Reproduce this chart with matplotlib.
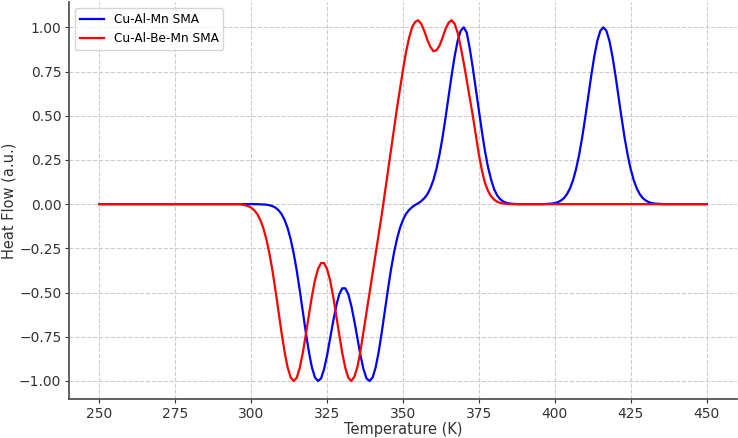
import matplotlib
matplotlib.use("Agg")
import matplotlib.pyplot as plt

# Temperature grid (K) shared by both DSC traces
temperature = [
    250, 260, 270, 280, 290,
    296, 297, 298, 299,
    300, 301, 302, 303, 304, 305, 306, 307, 308, 309,
    310, 311, 312, 313, 314, 315, 316, 317, 318, 319,
    320, 321, 322, 323, 324, 325, 326, 327, 328, 329,
    330, 331, 332, 333, 334, 335, 336, 337, 338, 339,
    340, 341, 342, 343, 344, 345, 346, 347, 348, 349,
    350, 351, 352, 353, 354, 355, 356, 357, 358, 359,
    360, 361, 362, 363, 364, 365, 366, 367, 368, 369,
    370, 371, 372, 373, 374, 375, 376, 377, 378, 379,
    380, 381, 382, 383, 384, 385, 386, 387, 388, 389,
    390, 391, 392, 393, 394, 395, 396, 397, 398, 399,
    400, 401, 402, 403, 404, 405, 406, 407, 408, 409,
    410, 411, 412, 413, 414, 415, 416, 417, 418, 419,
    420, 421, 422, 423, 424, 425, 426, 427, 428, 429,
    430, 431, 432, 433, 434, 435, 436,
    440, 450,
]

cu_al_mn = [
    0, 0, 0, 0, 0,
    0, 0, 0, 0,
    0, 0, 0, -0.001, -0.002, -0.003, -0.006, -0.011, -0.020, -0.034,
    -0.056, -0.089, -0.135, -0.198, -0.278, -0.375, -0.487, -0.607, -0.726, -0.835,
    -0.923, -0.980, -1.000, -0.986, -0.934, -0.855, -0.760, -0.663, -0.576, -0.510,
    -0.476, -0.476, -0.510, -0.576, -0.663, -0.760, -0.855, -0.934, -0.986, -1.000,
    -0.980, -0.923, -0.835, -0.726, -0.607, -0.487, -0.375, -0.278, -0.198, -0.135,
    -0.089, -0.055, -0.033, -0.017, -0.005, 0.005, 0.017, 0.033, 0.055, 0.089,
    0.135, 0.198, 0.278, 0.375, 0.487, 0.607, 0.726, 0.835, 0.923, 0.980,
    1.000, 0.970, 0.880, 0.770, 0.650, 0.530, 0.410, 0.300, 0.210, 0.140,
    0.085, 0.050, 0.028, 0.015, 0.008, 0.004, 0.002, 0.001, 0, 0,
    0, 0, 0, 0, 0, 0, 0, 0.001, 0.002, 0.003,
    0.006, 0.011, 0.020, 0.034, 0.056, 0.089, 0.135, 0.198, 0.278, 0.375,
    0.487, 0.607, 0.726, 0.835, 0.923, 0.980, 1.000, 0.980, 0.923, 0.835,
    0.726, 0.607, 0.487, 0.375, 0.278, 0.198, 0.135, 0.089, 0.056, 0.034,
    0.020, 0.011, 0.006, 0.003, 0.002, 0.001, 0,
    0, 0,
]

cu_al_be_mn = [
    0, 0, 0, 0, 0,
    0, -0.003, -0.006, -0.011,
    -0.020, -0.034, -0.056, -0.089, -0.135, -0.198, -0.278, -0.375, -0.487, -0.607,
    -0.726, -0.835, -0.923, -0.980, -1.000, -0.982, -0.926, -0.841, -0.737, -0.627,
    -0.521, -0.431, -0.367, -0.333, -0.333, -0.367, -0.431, -0.521, -0.627, -0.737,
    -0.841, -0.926, -0.982, -1.000, -0.975, -0.920, -0.830, -0.720, -0.610, -0.500,
    -0.390, -0.280, -0.170, -0.060, 0.060, 0.180, 0.300, 0.420, 0.540, 0.650,
    0.760, 0.860, 0.940, 1.000, 1.030, 1.040, 1.020, 0.980, 0.930, 0.890,
    0.865, 0.870, 0.895, 0.940, 0.990, 1.025, 1.040, 1.020, 0.970, 0.890,
    0.800, 0.700, 0.600, 0.500, 0.390, 0.280, 0.190, 0.120, 0.075, 0.045,
    0.026, 0.014, 0.007, 0.004, 0.002, 0.001, 0, 0, 0, 0,
    0, 0, 0, 0, 0, 0, 0, 0, 0, 0,
    0, 0, 0, 0, 0, 0, 0, 0, 0, 0,
    0, 0, 0, 0, 0, 0, 0, 0, 0, 0,
    0, 0, 0, 0, 0, 0, 0, 0, 0, 0,
    0, 0, 0, 0, 0, 0, 0,
    0, 0,
]

series_labels = ["Cu-Al-Mn SMA", "Cu-Al-Be-Mn SMA"]

fig, ax = plt.subplots(figsize=(7.38, 4.38), dpi=100)
fig.subplots_adjust(left=0.0935, right=0.9986, bottom=0.089, top=0.995)

ax.plot(temperature, cu_al_mn, color="blue", lw=1.6, label=series_labels[0])
ax.plot(temperature, cu_al_be_mn, color="red", lw=1.6, label=series_labels[1])

ax.set_xlabel("Temperature (K)", fontsize=10.5, color="#333333", labelpad=1)
ax.set_ylabel("Heat Flow (a.u.)", fontsize=10.5, color="#333333", labelpad=2)
ax.set_xticks([250, 275, 300, 325, 350, 375, 400, 425, 450])
ax.set_yticks([-1.0, -0.75, -0.5, -0.25, 0, 0.25, 0.5, 0.75, 1.0])
ax.tick_params(labelsize=10, colors="#333333", length=3, pad=2.5)
ax.grid(True, linestyle="--", color="#cccccc", lw=0.8)
for side in ["top", "right"]:
    ax.spines[side].set_visible(False)
for side in ["left", "bottom"]:
    ax.spines[side].set_color("#555555")
    ax.spines[side].set_linewidth(1.3)

ax.legend(loc="upper left", fontsize=8.7)

plt.savefig("out.png", dpi=100)
plt.close()
